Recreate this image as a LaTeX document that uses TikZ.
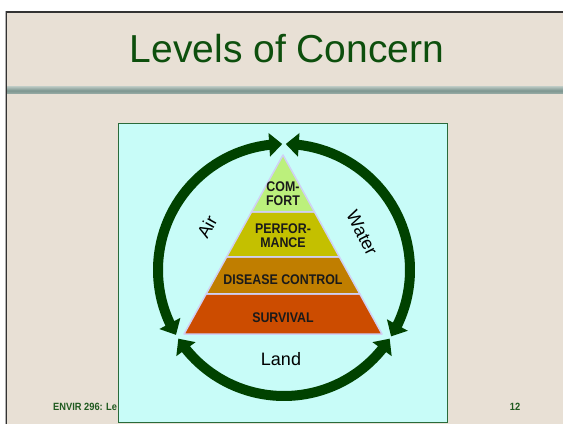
\documentclass[tikz,border=0pt]{standalone}
\usepackage{fontspec}
\setmainfont{Liberation Sans}
\newfontfamily\nbfont[FakeStretch=0.885]{Liberation Sans}
\usetikzlibrary{arrows.meta,bending,calc}
\definecolor{slidebg}{HTML}{E8E0D5}
\definecolor{titlegreen}{HTML}{0D4F0D}
\definecolor{footgreen}{HTML}{1F5A1F}
\definecolor{boxcyan}{HTML}{C8FCF8}
\definecolor{boxline}{HTML}{2A6A3A}
\definecolor{ringgreen}{HTML}{004200}
\definecolor{lav}{HTML}{D0D0F4}
\definecolor{comfortc}{HTML}{BCF07C}
\definecolor{perfc}{HTML}{C4C000}
\definecolor{diseasec}{HTML}{C07E00}
\definecolor{survc}{HTML}{CC4C00}
\definecolor{txt}{HTML}{1A1A1A}
\definecolor{bartop}{HTML}{B0C0BA}
\definecolor{barmid}{HTML}{7D9690}
\definecolor{barbot}{HTML}{9AAEA8}
\begin{document}
\begin{tikzpicture}[x=1pt,y=1pt,
  ring/.style={line width=10pt, draw=ringgreen,
    {Triangle[width=23pt,length=13pt]}-{Triangle[width=23pt,length=13pt]}},
  layer/.style={fill=#1, draw=lav, line width=1.5pt, line join=round},
  lvl/.style={font=\nbfont\bfseries\fontsize{14}{14}\selectfont, text=txt, align=center, inner sep=0pt},
  lab/.style={font=\fontsize{18}{18}\selectfont, text=black, inner sep=0pt},
  foot/.style={font=\nbfont\bfseries\fontsize{10.5}{10.5}\selectfont, text=footgreen, inner sep=0pt},
  titlefont/.style={font=\fontsize{39}{39}\selectfont, text=titlegreen, inner sep=0pt}]
\useasboundingbox (0,0) rectangle (563,424);
\fill[white] (0,0) rectangle (563,424);
% slide
\fill[slidebg] (5,0) rectangle (563,413);
\draw[gray!60, line width=1pt] (5,0) -- (5,413);
\draw[black!80, line width=1.3pt] (6.5,0) -- (6.5,412) -- (563,412);
% title and bar
\node[titlefont, anchor=base] (title) at (287,361) {Levels of Concern};
\shade[top color=bartop, bottom color=barbot, middle color=barmid] (7,330) rectangle (563,337);
% footer
\node[foot, anchor=base west] (footl) at (53,14) {ENVIR 296: Le};
\node[foot, anchor=base] (footr) at (515,14) {12};
% box
\draw[fill=boxcyan, draw=boxline, line width=1pt] (118,2) rectangle (447,300);
% pyramid
\coordinate (apex) at (283,269);
\coordinate (bl) at (184,90);
\coordinate (br) at (382,90);
\coordinate (l1) at ($(apex)!0.3184!(bl)$);
\coordinate (r1) at ($(apex)!0.3184!(br)$);
\coordinate (l2) at ($(apex)!0.5698!(bl)$);
\coordinate (r2) at ($(apex)!0.5698!(br)$);
\coordinate (l3) at ($(apex)!0.7765!(bl)$);
\coordinate (r3) at ($(apex)!0.7765!(br)$);
\path[layer=survc] (l3) -- (r3) -- (br) -- (bl) -- cycle;
\path[layer=diseasec] (l2) -- (r2) -- (r3) -- (l3) -- cycle;
\path[layer=perfc] (l1) -- (r1) -- (r2) -- (l2) -- cycle;
\path[layer=comfortc] (apex) -- (r1) -- (l1) -- cycle;
\node[lvl] (comfort) at (283,230) {COM-\\FORT};
\node[lvl] (perf) at (283,188) {PERFOR-\\MANCE};
\node[lvl] (disease) at (283,144) {DISEASE CONTROL};
\node[lvl] (surv) at (283,106) {SURVIVAL};
% ring
\coordinate (c) at (284,154);
\draw[ring] ($(c)+(90.8:126)$) arc[start angle=90.8, end angle=211, radius=126];
\draw[ring] ($(c)+(89.2:126)$) arc[start angle=89.2, end angle=-31.8, radius=126];
\draw[ring] ($(c)+(213:126)$) arc[start angle=213, end angle=327, radius=126];
\node[lab, rotate=61] (air) at (207,197) {Air};
\node[lab, rotate=-63] (water) at (362,191) {Water};
\node[lab] (land) at (281,64.5) {Land};
\end{tikzpicture}
\end{document}
